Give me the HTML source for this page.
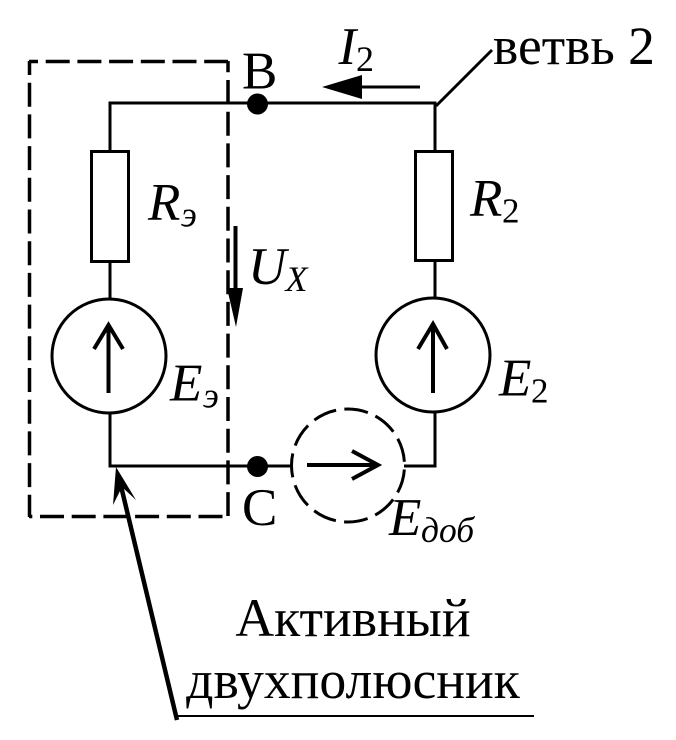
<!DOCTYPE html>
<html><head><meta charset="utf-8">
<style>html,body{margin:0;padding:0;background:#fff}svg{display:block}
text{font-family:"Liberation Serif",serif;fill:#000}
.i{font-style:italic}</style></head>
<body>
<svg width="676" height="740" viewBox="0 0 676 740" xmlns="http://www.w3.org/2000/svg">
<g fill="none" stroke="#000" stroke-width="3">
<path d="M110 151V103H435V151"/>
<path d="M110 413V466H292"/>
<path d="M404 466H435V412"/>
<path d="M110 262V299"/>
<path d="M435 261V298"/>
<rect x="91.500" y="151.500" width="37" height="110"/>
<rect x="415.500" y="151.500" width="37" height="109"/>
<circle cx="109" cy="356" r="57"/>
<circle cx="433" cy="355" r="57"/>
<path d="M436 106L492 50"/>
<g stroke-width="4">
<path d="M108.500 393V326M94 349L108.500 325L123 349"/>
<path d="M433 393V325M418 349L433 324L447 349"/>
<path d="M307 465H376M352 451L378 465L352 479"/>
</g>
<circle cx="348" cy="465.500" r="56.500" stroke-dasharray="24 8.270" stroke-dashoffset="-4.100"/>
<g stroke-width="3.500" stroke-dasharray="24 7.700">
<path d="M29 61.500H228" stroke-dashoffset="15"/>
<path d="M29.500 61V517" stroke-dashoffset="10"/>
<path d="M29 516.500H228" stroke-dashoffset="20.700"/>
<path d="M228 61V516" stroke-dashoffset="12.700"/>
</g>
<path d="M175 716H534" stroke-width="2"/>
<path d="M177 720L121 486" stroke-width="4.500"/>
<path d="M362 87H420"/>
<path d="M235.500 226V292" stroke-width="4"/>
</g>
<circle cx="257.500" cy="104" r="10.500"/>
<circle cx="257.500" cy="466.500" r="10.500"/>
<polygon points="322,87 362,75 362,99"/>
<polygon points="227,288 243,288 236,327"/>
<polygon points="116,467 113,505 122,487 136,500"/>
<text x="242" y="88.500" font-size="53">В</text>
<text x="242" y="525" font-size="53">С</text>
<text x="338.500" y="64" font-size="53" class="i">I</text>
<text x="356" y="71" font-size="36">2</text>
<text x="493" y="64" font-size="53.500">ветвь 2</text>
<text x="148" y="219.500" font-size="53" class="i">R</text>
<text x="181" y="226.500" font-size="36" class="i">э</text>
<text x="470" y="215.500" font-size="53" class="i">R</text>
<text x="502" y="222.500" font-size="35">2</text>
<text x="248" y="284" font-size="53" class="i">U</text>
<text x="285.500" y="291" font-size="36" class="i">X</text>
<text x="170" y="400.500" font-size="53" class="i">E</text>
<text x="203" y="407.500" font-size="36" class="i">э</text>
<text x="499" y="395.500" font-size="53" class="i">E</text>
<text x="531" y="402.500" font-size="35">2</text>
<text x="389" y="535" font-size="53" class="i">E</text>
<text x="421" y="542" font-size="35.500" class="i">доб</text>
<text x="353" y="636" font-size="53.700" text-anchor="middle">Активный</text>
<text x="353" y="698" font-size="53.700" text-anchor="middle">двухполюсник</text>
</svg>
</body></html>
